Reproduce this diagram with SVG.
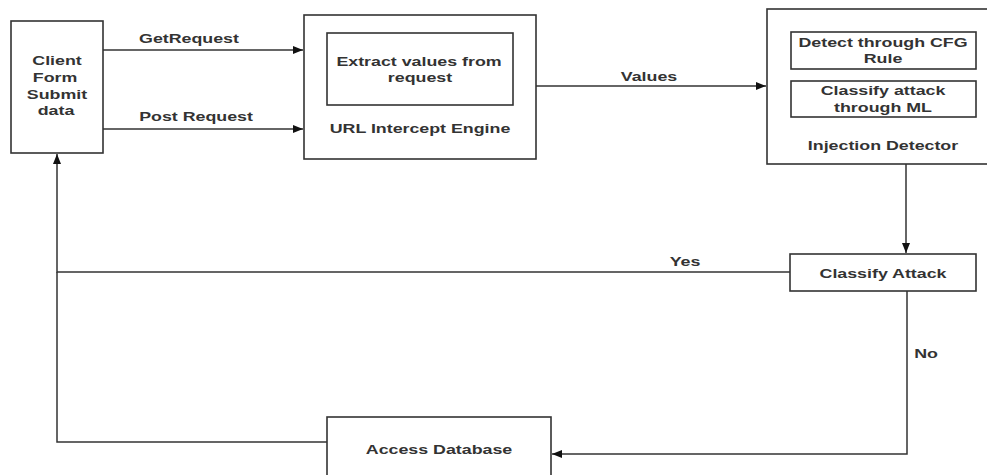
<svg xmlns="http://www.w3.org/2000/svg" width="987" height="475" viewBox="0 0 987 475">
<style>
  .box { fill: #fff; stroke: #333; stroke-width: 1.6; }
  .conn { fill: none; stroke: #333; stroke-width: 1.5; }
  .t { font-family: "Liberation Sans", Arial, sans-serif; font-weight: bold; font-size: 13px; fill: #333; text-anchor: middle; }
</style>
<defs>
  <marker id="arr" viewBox="0 0 10 8" refX="10" refY="4" markerWidth="10" markerHeight="8" markerUnits="userSpaceOnUse" orient="auto">
    <path d="M0,0 L10,4 L0,8 z" fill="#111"/>
  </marker>
</defs>
<rect width="987" height="475" fill="#fff"/>

<g id="connectors">
  <path class="conn" d="M103 50 H303" marker-end="url(#arr)"/>
  <path class="conn" d="M103 129 H303" marker-end="url(#arr)"/>
  <path class="conn" d="M536 86 H766" marker-end="url(#arr)"/>
  <path class="conn" d="M906 164 V253" marker-end="url(#arr)"/>
  <path class="conn" d="M790 272 H57 V154" marker-end="url(#arr)"/>
  <path class="conn" d="M327 442 H57 V272"/>
  <path class="conn" d="M907 291 V454 H552" marker-end="url(#arr)"/>
  <text class="t" transform="translate(189 43) scale(1.37 1)">GetRequest</text>
  <text class="t" transform="translate(196 121) scale(1.37 1)">Post Request</text>
  <text class="t" transform="translate(649 81) scale(1.37 1)">Values</text>
  <text class="t" transform="translate(685 266) scale(1.37 1)">Yes</text>
  <text class="t" transform="translate(926 358) scale(1.37 1)">No</text>
</g>

<g id="client">
  <rect class="box" x="11" y="21" width="92" height="132"/>
  <text class="t" transform="translate(57 65) scale(1.37 1)">Client</text>
  <text class="t" transform="translate(55 82) scale(1.37 1)">Form</text>
  <text class="t" transform="translate(57 99) scale(1.37 1)">Submit</text>
  <text class="t" transform="translate(56 115) scale(1.37 1)">data</text>
</g>

<g id="url-intercept-engine">
  <rect class="box" x="304" y="15" width="232" height="144"/>
  <text class="t" transform="translate(420 133) scale(1.37 1)">URL Intercept Engine</text>
</g>

<g id="extract-values">
  <rect class="box" x="327" y="33" width="186" height="72"/>
  <text class="t" transform="translate(419 66) scale(1.37 1)">Extract values from</text>
  <text class="t" transform="translate(420 82) scale(1.37 1)">request</text>
</g>

<g id="injection-detector">
  <rect class="box" x="767" y="9" width="240" height="155"/>
  <text class="t" transform="translate(883 150) scale(1.37 1)">Injection Detector</text>
</g>

<g id="detect-cfg">
  <rect class="box" x="791" y="32" width="185" height="37"/>
  <text class="t" transform="translate(883 47) scale(1.37 1)">Detect through CFG</text>
  <text class="t" transform="translate(883 63) scale(1.37 1)">Rule</text>
</g>

<g id="classify-ml">
  <rect class="box" x="791" y="81" width="185" height="36"/>
  <text class="t" transform="translate(883 95) scale(1.37 1)">Classify attack</text>
  <text class="t" transform="translate(883 112) scale(1.37 1)">through ML</text>
</g>

<g id="classify-attack">
  <rect class="box" x="790" y="254" width="186" height="37"/>
  <text class="t" transform="translate(883 278) scale(1.37 1)">Classify Attack</text>
</g>

<g id="access-database">
  <rect class="box" x="327" y="417" width="224" height="70"/>
  <text class="t" transform="translate(439 454) scale(1.37 1)">Access Database</text>
</g>
</svg>
